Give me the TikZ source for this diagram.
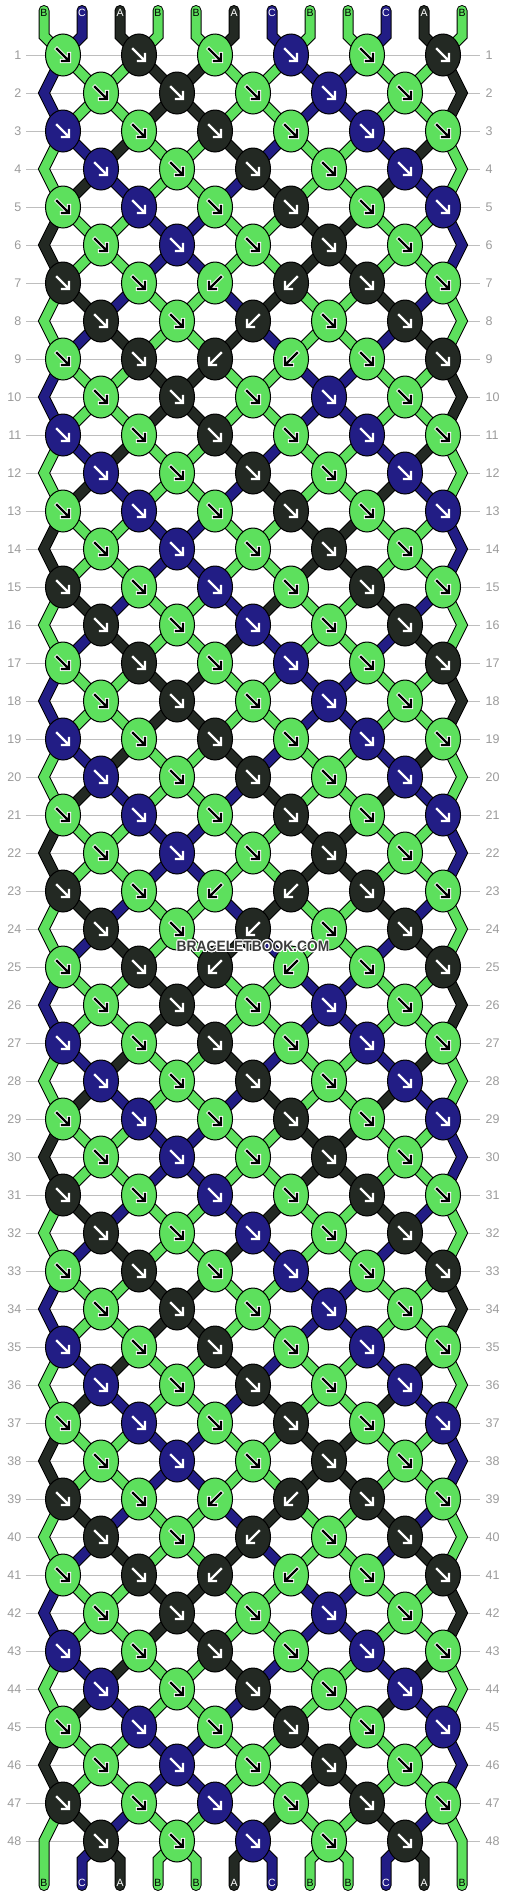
\documentclass[tikz,border=0pt]{standalone}
\usepackage{fontspec}
\setmainfont{Liberation Sans}
\usepackage[copies]{contour}
\contourlength{1pt}
\usetikzlibrary{shapes.geometric}
\definecolor{bg}{HTML}{FFFFFF}
\definecolor{strB}{HTML}{5DE05D}
\definecolor{strA}{HTML}{232923}
\definecolor{strC}{HTML}{221D85}
\definecolor{gridc}{HTML}{BEBEBE}
\definecolor{numc}{HTML}{9B9B9B}
\definecolor{wmtext}{HTML}{3C3C3C}
\tikzset{
  rowline/.style={draw=gridc, line width=1pt},
  num/.style={text=numc, font=\fontsize{12.5}{13}\selectfont, inner sep=0pt},
  thread/.style={draw=black, line width=1pt, double distance=9pt, line cap=round, line join=miter},
  knot/.style={ellipse, draw=black, line width=1pt, minimum width=35pt, minimum height=42pt, inner sep=0pt},
  arr/.style={line width=2.4pt, line cap=rect, line join=miter},
  halo/.style={line width=4.2pt, line cap=rect, line join=miter},
  strlab/.style={font=\fontsize{10.5}{11}\selectfont, inner sep=0pt},
  wmark/.style={text=wmtext, font=\bfseries\fontsize{15}{15}\selectfont, inner sep=0pt},
  fwd/.pic={\draw (-6,-6) -- (5,5) (-1,6) -- (6,6) -- (6,-1);},
  bwd/.pic={\draw (6,-6) -- (-5,5) (1,6) -- (-6,6) -- (-6,-1);},
}

\begin{document}
\begin{tikzpicture}[x=1pt, y=-1pt]
  \fill[bg] (0,0) rectangle (506,1896);
  \useasboundingbox (0,0) rectangle (506,1896);
  % rows and knot places
  \foreach \row in {1,...,48}{
    \pgfmathsetmacro\ry{55+38*(\row-1)}
    \draw[rowline] (26,\ry) -- (480,\ry);
    \node[num, anchor=east] (nl-\row) at (21.5,\ry) {\row};
    \node[num, anchor=west] (nr-\row) at (485.5,\ry) {\row};
    \foreach \ps in {0,...,11}{
      \pgfmathtruncatemacro\sx{44+38*\ps + (mod(\row,2)==1 ? (mod(\ps,2)==0 ? 19 : -19) : ((\ps==0 || \ps==11) ? 0 : (mod(\ps,2)==1 ? 19 : -19)))}
      \coordinate (s-\row-\ps) at (\sx,\ry);
    }
  }
  % threads
  \foreach \j in {0,...,11}{
    \pgfmathtruncatemacro\sx{44+38*\j}
    \coordinate (top-\j) at (\sx,10.5);
    \coordinate (in-\j) at (\sx,36);
    \coordinate (out-\j) at (\sx,1860);
    \coordinate (bot-\j) at (\sx,1885.5);
    \pgfmathtruncatemacro\uo{mod(\j,2)==0 ? \j : 23-\j}
    \pgfmathtruncatemacro\cc{mod(\uo,8)}
    \edef\scol{\ifcase\cc strB\or\or strA\or\or strB\or\or strC\fi}
    \edef\lcol{\ifcase\cc black\or\or white\or\or black\or\or white\fi}
    \edef\ltxt{\ifcase\cc B\or\or A\or\or B\or\or C\fi}
    \draw[thread, double=\scol] (top-\j) -- (in-\j)
      \foreach \row [evaluate={\row as \ps using int(11.5-abs(11.5-mod(\uo+\row-1,24)))}] in {1,...,48}{ -- (s-\row-\ps)}
      -- (out-\j) -- (bot-\j);
    \node[strlab, text=\lcol] (lt-\j) at (\sx,13) {\ltxt};
    \node[strlab, text=\lcol] (lb-\j) at (\sx,1883) {\ltxt};
  }
  % knots
  \foreach \row in {1,...,48}{
    \pgfmathtruncatemacro\nk{mod(\row,2)==1 ? 5 : 4}
    \foreach \kn in {0,...,\nk}{
      \pgfmathtruncatemacro\lp{mod(\row,2)==1 ? 2*\kn : 2*\kn+1}
      \pgfmathtruncatemacro\bk{(((mod(\row,16)==7 || mod(\row,16)==9) && (\kn==2 || \kn==3)) || (mod(\row,16)==8 && \kn==2)) ? 1 : 0}
      \pgfmathtruncatemacro\cq{\lp+\bk}
      \pgfmathtruncatemacro\cv{mod(\cq+\row-1,2)==0 ? 49+\cq-\row : 72-\cq-\row}
      \pgfmathtruncatemacro\cc{mod(\cv,8)}
      \edef\kcol{\ifcase\cc strB\or\or strA\or\or strB\or\or strC\fi}
      \edef\acol{\ifcase\cc black\or\or white\or\or black\or\or white\fi}
      \edef\hcol{\ifcase\cc white\or\or \kcol\or\or white\or\or \kcol\fi}
      \node[knot, fill=\kcol] (k-\row-\kn) at (s-\row-\lp) {};
      \ifnum\bk=1
        \pic[halo, color=\hcol] at (k-\row-\kn) {bwd};
        \pic[arr, color=\acol] at (k-\row-\kn) {bwd};
      \else
        \pic[halo, color=\hcol] at (k-\row-\kn) {fwd};
        \pic[arr, color=\acol] at (k-\row-\kn) {fwd};
      \fi
    }
  }
  \node[wmark] (wm) at (253,947) {\scalebox{0.92}[1]{\contour{white}{BRACELETBOOK.COM}}};
\end{tikzpicture}
\end{document}
